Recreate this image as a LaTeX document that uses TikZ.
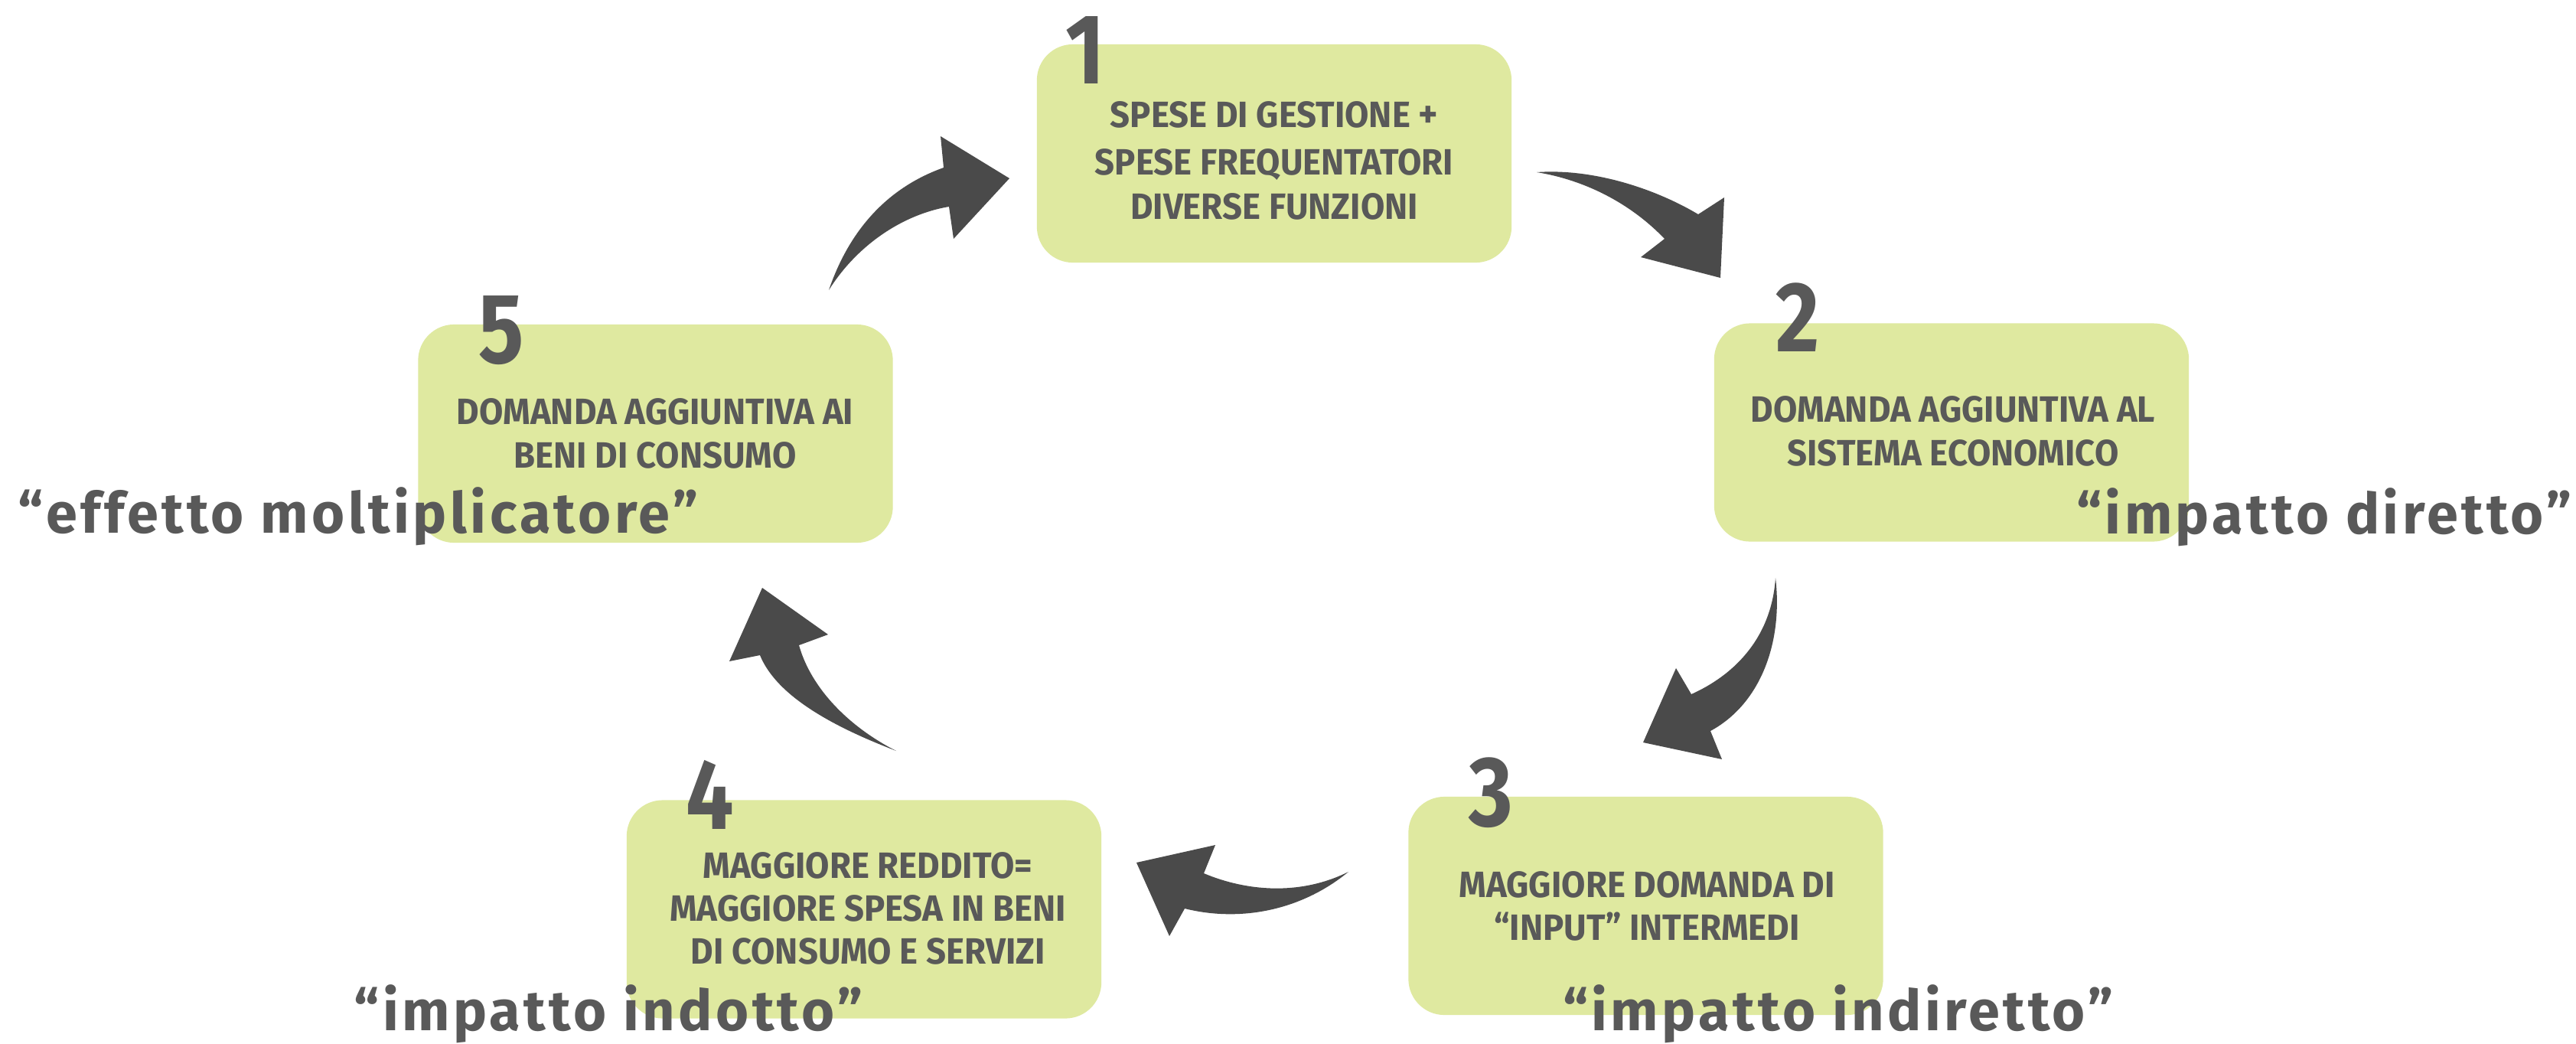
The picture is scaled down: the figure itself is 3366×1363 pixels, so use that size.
\documentclass[tikz,border=0pt]{standalone}
\usepackage{fontspec}
\setmainfont{Fira Sans}
\newfontfamily\boxfont[FakeStretch=0.95]{Fira Sans}
\newfontfamily\numfont[FakeStretch=0.85]{Fira Sans}
\newfontfamily\lblfont[LetterSpace=6]{Fira Sans}
\definecolor{boxgreen}{HTML}{DFE9A0}
\definecolor{txtgray}{HTML}{595959}
\definecolor{arrgray}{HTML}{4A4A4A}
\tikzset{
  stepbox/.style={fill=boxgreen, draw=none, rounded corners=0.47cm, minimum width=6.2cm, minimum height=2.85cm, inner sep=0},
  boxtxt/.style={text=txtgray, font=\boxfont\bfseries\fontsize{13.6pt}{15pt}\selectfont, anchor=base, inner sep=0},
  numtxt/.style={text=txtgray, font=\numfont\bfseries\fontsize{37pt}{40pt}\selectfont, anchor=base, inner sep=0},
  lbl/.style={text=txtgray, font=\lblfont\bfseries\fontsize{21pt}{24pt}\selectfont, anchor=base, inner sep=0},
  arrowshape/.style={fill=arrgray, draw=none}
}
\begin{document}
\begin{tikzpicture}[x=0.01cm,y=-0.01cm]
\fill[white] (0,0) rectangle (3366,1363);
\useasboundingbox (0,0) rectangle (3366,1363);

% boxes
\node[stepbox] (b1) at (1665,200.5) {};
\node[stepbox] (b2) at (2550,565) {};
\node[stepbox] (b3) at (2150.5,1183.5) {};
\node[stepbox] (b4) at (1129,1188) {};
\node[stepbox] (b5) at (856.5,566.5) {};

% numbers
\node[numtxt] (n1) at (1418,109) {1};
\node[numtxt] (n2) at (2349,459) {2};
\node[numtxt] (n3) at (1948,1079) {3};
\node[numtxt] (n4) at (928,1083) {4};
\node[numtxt] (n5) at (655,474) {5};

% box texts
\node[boxtxt] (t1a) at (1665,166) {SPESE DI GESTIONE {\Large +}};
\node[boxtxt] (t1b) at (1665,228) {SPESE FREQUENTATORI};
\node[boxtxt] (t1c) at (1665,286) {DIVERSE FUNZIONI};
\node[boxtxt] (t2a) at (2552,551) {DOMANDA AGGIUNTIVA AL};
\node[boxtxt] (t2b) at (2552,608) {SISTEMA ECONOMICO};
\node[boxtxt] (t3a) at (2152,1172) {MAGGIORE DOMANDA DI};
\node[boxtxt] (t3b) at (2152,1228) {“INPUT” INTERMEDI};
\node[boxtxt] (t4a) at (1134,1147) {MAGGIORE REDDITO=};
\node[boxtxt] (t4b) at (1134,1203) {MAGGIORE SPESA IN BENI};
\node[boxtxt] (t4c) at (1134,1259) {DI CONSUMO E SERVIZI};
\node[boxtxt] (t5a) at (856,554) {DOMANDA AGGIUNTIVA AI};
\node[boxtxt] (t5b) at (856,611) {BENI DI CONSUMO};

% labels
\node[lbl] (l1) at (468,696) {“effetto moltiplicatore”};
\node[lbl] (l2) at (3037,697) {“impatto diretto”};
\node[lbl] (l3) at (2402,1346) {“impatto indiretto”};
\node[lbl] (l4) at (795,1346) {“impatto indotto”};

% arrows
% 5 -> 1
\fill[arrowshape] (1083,379) .. controls (1110,300) and (1160,245) .. (1233,219)
  -- (1229,178) -- (1319,233) -- (1246,312) -- (1240,270)
  .. controls (1180,280) and (1120,320) .. (1083,379) -- cycle;
% 1 -> 2
\fill[arrowshape] (2008,225) .. controls (2080,220) and (2160,245) .. (2219,280)
  -- (2253,258) -- (2248,363) -- (2144,336) -- (2175,312)
  .. controls (2130,265) and (2070,235) .. (2008,225) -- cycle;
% 2 -> 3
\fill[arrowshape] (2320,755) .. controls (2330,840) and (2300,920) .. (2235,955)
  -- (2250,992) -- (2147,970) -- (2190,873) -- (2210,907)
  .. controls (2270,880) and (2315,830) .. (2320,755) -- cycle;
% 3 -> 4
\fill[arrowshape] (1762,1139) .. controls (1700,1190) and (1620,1205) .. (1548,1187)
  -- (1528,1223) -- (1485,1127) -- (1588,1104) -- (1573,1141)
  .. controls (1630,1165) and (1700,1170) .. (1762,1139) -- cycle;
% 4 -> 5
\fill[arrowshape] (1171,981) .. controls (1090,950) and (1015,910) .. (993,856)
  -- (953,864) -- (996,768) -- (1082,829) -- (1044,843)
  .. controls (1060,900) and (1110,950) .. (1171,981) -- cycle;
\end{tikzpicture}
\end{document}
